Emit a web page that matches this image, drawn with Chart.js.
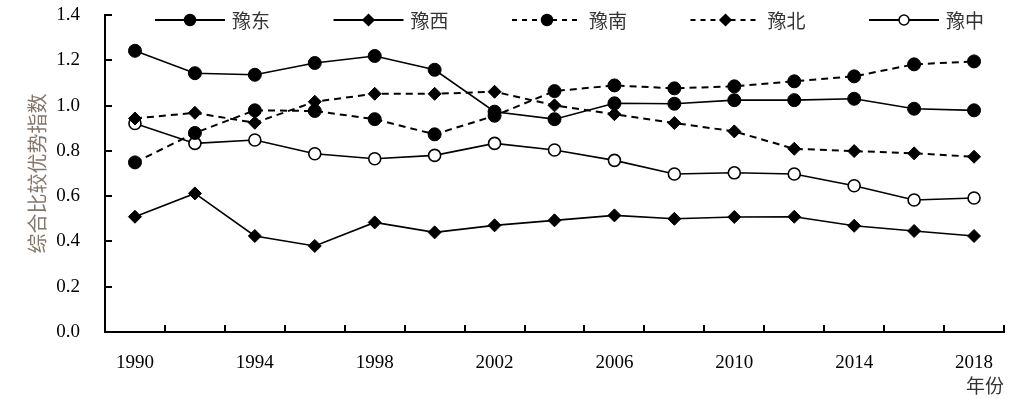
<!DOCTYPE html>
<html><head><meta charset="utf-8">
<script src="https://cdn.jsdelivr.net/npm/chart.js@4/dist/chart.umd.min.js"></script>
<style>html,body{margin:0;padding:0;background:#fff}#wrap{width:1032px;height:399px}</style>
</head><body><div id="wrap"><canvas id="c" width="1032" height="399"></canvas></div>
<script>
const years = ['1990','1992','1994','1996','1998','2000','2002','2004','2006','2008','2010','2012','2014','2016','2018'];
const seriesNames = ['豫东','豫西','豫南','豫北','豫中'];
const yuDong = [1.242,1.143,1.136,1.188,1.219,1.158,0.973,0.940,1.010,1.008,1.024,1.024,1.030,0.986,0.979];
const yuXi   = [0.509,0.612,0.424,0.380,0.484,0.440,0.471,0.493,0.515,0.500,0.508,0.509,0.469,0.446,0.424];
const yuNan  = [0.749,0.879,0.979,0.976,0.940,0.873,0.955,1.064,1.089,1.076,1.085,1.107,1.129,1.182,1.195];
const yuBei  = [0.943,0.968,0.924,1.017,1.052,1.052,1.061,1.001,0.962,0.923,0.886,0.809,0.799,0.789,0.774];
const yuZhong= [0.921,0.833,0.848,0.787,0.765,0.780,0.833,0.804,0.758,0.698,0.703,0.698,0.646,0.583,0.592];
const yAxisTitle = '综合比较优势指数';
const xAxisTitle = '年份';

const serif = '"Liberation Serif","Times New Roman",serif';
const cjk = '"Noto Sans CJK SC","Noto Sans CJK JP",sans-serif';

const styles = [
  {dash:[], style:'circle', r:6.5, fill:'#000', bw:1.6},
  {dash:[], style:'rectRot', r:6.5, fill:'#000', bw:1.6},
  {dash:[7,5], style:'circle', r:6.5, fill:'#000', bw:2},
  {dash:[7,5], style:'rectRot', r:6.5, fill:'#000', bw:2},
  {dash:[], style:'circle', r:6, fill:'#fff', bw:1.6}
];
const seriesData = [yuDong, yuXi, yuNan, yuBei, yuZhong];

const datasets = seriesNames.map((n,i)=>({
  label:n, data:seriesData[i],
  borderColor:'#000', borderWidth:styles[i].bw, borderDash:styles[i].dash,
  pointStyle:styles[i].style, pointRadius:styles[i].r, pointHoverRadius:styles[i].r,
  pointBackgroundColor:styles[i].fill, pointBorderColor:'#000',
  pointBorderWidth: styles[i].fill==='#fff'?1.6:1,
  tension:0, fill:false
}));

function drawMarker(ctx, style, x, y, r, fill){
  ctx.beginPath();
  if(style==='circle'){ ctx.arc(x,y,r,0,Math.PI*2); }
  else { ctx.moveTo(x-r,y); ctx.lineTo(x,y-r); ctx.lineTo(x+r,y); ctx.lineTo(x,y+r); ctx.closePath(); }
  ctx.fillStyle=fill; ctx.fill();
  ctx.setLineDash([]); ctx.lineWidth=1.5; ctx.strokeStyle='#000'; ctx.stroke();
}

const decor = {
  id:'decor',
  afterDraw(chart){
    const ctx=chart.ctx, xs=chart.scales.x, ys=chart.scales.y, ca=chart.chartArea;
    ctx.save();
    ctx.strokeStyle='#000'; ctx.lineWidth=2; ctx.setLineDash([]);
    for(let i=1;i<=years.length;i++){
      const px=Math.round(xs.getPixelForValue(i-0.5));
      ctx.beginPath(); ctx.moveTo(px,ca.bottom); ctx.lineTo(px,ca.bottom-7); ctx.stroke();
    }
    ys.ticks.forEach(t=>{
      const py=Math.round(ys.getPixelForValue(t.value));
      ctx.beginPath(); ctx.moveTo(ca.left,py); ctx.lineTo(ca.left+7,py); ctx.stroke();
    });
    // legend
    const cy=20;
    seriesNames.forEach((n,i)=>{
      const sx=155+i*178.5;
      ctx.beginPath();
      ctx.setLineDash(styles[i].dash.length?[5,5]:[]);
      ctx.lineWidth=2; ctx.strokeStyle='#000';
      ctx.moveTo(sx,cy); ctx.lineTo(sx+70,cy); ctx.stroke();
      drawMarker(ctx, styles[i].style, sx+35, cy, styles[i].fill==='#fff'?5:5.5, styles[i].fill);
      ctx.fillStyle='#333'; ctx.font='19px '+cjk; ctx.textBaseline='middle'; ctx.textAlign='left';
      ctx.fillText(n, sx+77, cy+1);
    });
    ctx.restore();
  }
};

new Chart(document.getElementById('c'), {
  type:'line',
  data:{labels:years, datasets},
  options:{
    responsive:false, animation:false, devicePixelRatio:1,
    layout:{padding:{left:20,right:28,top:15,bottom:0}},
    plugins:{legend:{display:false}, tooltip:{enabled:false}, title:{display:false}},
    scales:{
      x:{
        type:'category', offset:true,
        grid:{display:false, drawTicks:false, offset:true},
        border:{display:true, color:'#000', width:2},
        ticks:{autoSkip:false, maxRotation:0, minRotation:0, padding:20, color:'#000',
          font:{family:serif, size:19},
          callback:function(v,i){ return i%2===0 ? this.getLabelForValue(v) : ''; }},
        title:{display:true, text:xAxisTitle, align:'end', color:'#333', font:{family:cjk, size:19}, padding:{top:0,bottom:2}},
        afterFit:s=>{ s.height=67; s.paddingLeft=0; s.paddingRight=0; }
      },
      y:{
        min:0, max:1.4,
        grid:{display:false, drawTicks:false},
        border:{display:true, color:'#000', width:2},
        ticks:{stepSize:0.2, padding:25, color:'#000', font:{family:serif, size:19},
          callback:v=>v.toFixed(1)},
        title:{display:true, text:yAxisTitle, color:'#85766a', font:{family:cjk, size:20}, padding:{top:5,bottom:0}},
        afterFit:s=>{ s.width=85; s.paddingTop=0; s.paddingBottom=0; }
      }
    }
  },
  plugins:[decor]
});
</script></body></html>
